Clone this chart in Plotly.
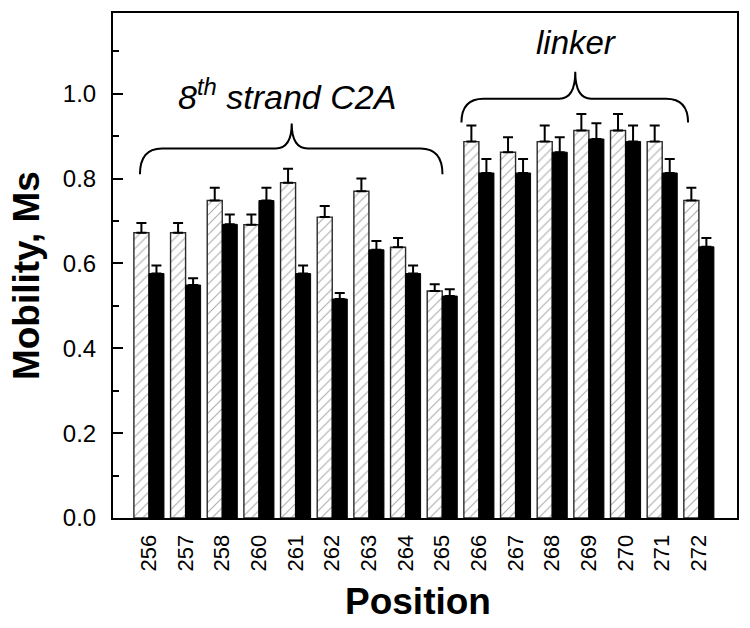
import plotly.graph_objects as go

positions = ["256", "257", "258", "260", "261", "262", "263", "264", "265",
             "266", "267", "268", "269", "270", "271", "272"]
hatched_vals = [0.672, 0.672, 0.748, 0.691, 0.790, 0.709, 0.770, 0.638, 0.535,
                0.887, 0.862, 0.887, 0.913, 0.913, 0.887, 0.748]
hatched_err = [0.023, 0.023, 0.030, 0.024, 0.033, 0.026, 0.030, 0.022, 0.016,
               0.038, 0.035, 0.038, 0.039, 0.039, 0.038, 0.030]
solid_vals = [0.576, 0.549, 0.692, 0.748, 0.576, 0.516, 0.632, 0.576, 0.523,
              0.813, 0.813, 0.862, 0.893, 0.887, 0.813, 0.639]
solid_err = [0.019, 0.016, 0.023, 0.030, 0.019, 0.014, 0.021, 0.019, 0.016,
             0.033, 0.033, 0.035, 0.037, 0.038, 0.033, 0.021]
y_ticks = [0.0, 0.2, 0.4, 0.6, 0.8, 1.0]

W, H = 750, 628
# plot frame in page pixels: x 113..738, y 11..518
ML, MT = 113, 11
MR = W - 738
MB = H - 518
PW, PH = W - ML - MR, H - MT - MB


def px(x):
    return (x - ML) / PW


def py(y):
    return (H - MB - y) / PH


def brace(x0, x1, xc, yend, yh, ypk, r=22, r2=16):
    p = (f"M {px(x0)} {py(yend)} "
         f"Q {px(x0)} {py(yh)} {px(x0 + r)} {py(yh)} "
         f"L {px(xc - r2)} {py(yh)} "
         f"Q {px(xc)} {py(yh)} {px(xc)} {py(ypk)} "
         f"Q {px(xc)} {py(yh)} {px(xc + r2)} {py(yh)} "
         f"L {px(x1 - r)} {py(yh)} "
         f"Q {px(x1)} {py(yh)} {px(x1)} {py(yend)}")
    return dict(type="path", xref="paper", yref="paper", path=p,
                line=dict(color="black", width=2))


fig = go.Figure()
fig.add_trace(go.Bar(
    x=positions, y=hatched_vals,
    marker=dict(color="white",
                line=dict(color="#2a2a2a", width=1.4),
                pattern=dict(shape="/", fgcolor="#555555", bgcolor="white",
                             size=7, solidity=0.15)),
    error_y=dict(type="data", symmetric=False, array=hatched_err,
                 arrayminus=[0] * len(hatched_err),
                 color="black", thickness=2, width=5),
    showlegend=False,
))
fig.add_trace(go.Bar(
    x=positions, y=solid_vals,
    marker=dict(color="black", line=dict(color="black", width=1)),
    error_y=dict(type="data", symmetric=False, array=solid_err,
                 arrayminus=[0] * len(solid_err),
                 color="black", thickness=2, width=5),
    showlegend=False,
))

font_family = "Liberation Sans, Arial, sans-serif"

fig.update_layout(
    width=W, height=H,
    margin=dict(l=ML, r=MR, t=MT, b=MB, pad=0),
    paper_bgcolor="white", plot_bgcolor="white",
    barmode="group", bargap=0.18, bargroupgap=0,
    font=dict(family=font_family, color="black"),
    xaxis=dict(type="category", range=[-0.98, 16.04],
               tickangle=-90, tickfont=dict(size=22), ticklabelstandoff=6,
               showgrid=False, zeroline=False,
               showline=True, linecolor="black", linewidth=2, mirror=True,
               ticks=""),
    yaxis=dict(range=[0, 1.19], tickvals=y_ticks, tickformat=".1f",
               tickfont=dict(size=24), ticklabelstandoff=10,
               ticks="inside", ticklen=10, tickwidth=1.5, tickcolor="black",
               minor=dict(dtick=0.1, ticks="inside", ticklen=6,
                          tickwidth=1.5, tickcolor="black"),
               showgrid=False, zeroline=False,
               showline=True, linecolor="black", linewidth=2, mirror=True),
    shapes=[brace(140, 443, 292, 173, 147, 122),
            brace(462, 689, 576, 121, 97, 70)],
    annotations=[
        dict(text="<i>8<sup>th</sup> strand C2A</i>", xref="paper", yref="paper",
             x=px(287), y=py(93), showarrow=False, font=dict(size=34),
             xanchor="center", yanchor="middle"),
        dict(text="<i>linker</i>", xref="paper", yref="paper",
             x=px(577), y=py(41), showarrow=False, font=dict(size=33),
             xanchor="center", yanchor="middle"),
        dict(text="<b>Mobility, Ms</b>", xref="paper", yref="paper",
             x=px(27), y=py(275), showarrow=False, textangle=-90,
             font=dict(size=37), xanchor="center", yanchor="middle"),
        dict(text="<b>Position</b>", xref="paper", yref="paper",
             x=px(418), y=py(602), showarrow=False,
             font=dict(size=37), xanchor="center", yanchor="middle"),
    ],
)

fig.write_html(
    "out.html",
    config={"displayModeBar": False},
    post_script="document.body.style.margin='0';"
                "document.body.style.overflow='hidden';",
)
